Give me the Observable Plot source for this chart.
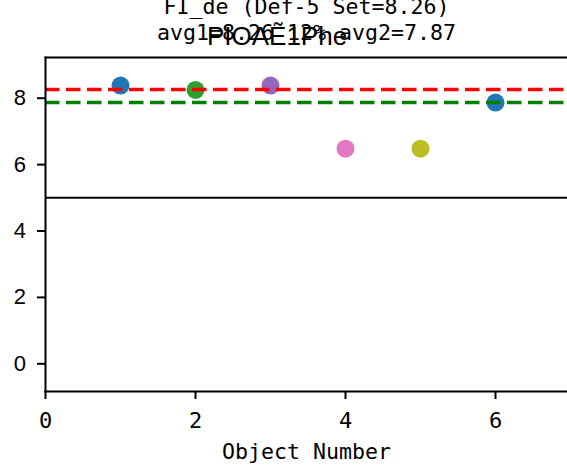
<!DOCTYPE html>
<html><head><meta charset="utf-8">
<script src="https://cdn.jsdelivr.net/npm/d3@7"></script>
<script src="https://cdn.jsdelivr.net/npm/@observablehq/plot@0.6"></script>
<style>body{margin:0;background:#fff;} svg{display:block}</style>
</head><body><div id="chart"></div>
<script>
const objectNumbers = [1, 2, 3, 4, 5, 6];
const values = [8.38, 8.25, 8.38, 6.48, 6.48, 7.87];
const pointColors = ["#1f77b4", "#2ca02c", "#9467bd", "#e377c2", "#bcbd22", "#1f77b4"];
const avg1 = 8.26;
const avg2 = 7.87;
const threshold = 5;
const xTicks = [0, 2, 4, 6];
const yTicks = [0, 2, 4, 6, 8];
const titleLine1 = "FI_de (Def-5 Set=8.26)";
const titleLine2 = "avg1=8.26 12% avg2=7.87";
const overlayText = "PIOAẼ1Phe";
const xLabel = "Object Number";
const xDomain = [0, 6.96];
const yDomain = [-0.834, 9.226];

const points = objectNumbers.map((x, i) => ({x, y: values[i], color: pointColors[i]}));
const mono = "'DejaVu Sans Mono', monospace";
const sans = "'Liberation Sans', Arial, sans-serif";

const chart = Plot.plot({
  width: 567, height: 466,
  marginLeft: 45, marginRight: 0, marginTop: 57, marginBottom: 75,
  style: {background: "#fff", overflow: "visible", color: "black"},
  x: {domain: xDomain},
  y: {domain: yDomain},
  color: {type: "identity"},
  marks: [
    Plot.dot(points, {x: "x", y: "y", fill: "color", r: 9}),
    Plot.ruleY([avg1], {stroke: "red", strokeWidth: 3.5, strokeDasharray: "14.5,6.5"}),
    Plot.ruleY([avg2], {stroke: "green", strokeWidth: 3.5, strokeDasharray: "14.5,6.5"}),
    Plot.ruleY([threshold], {stroke: "black", strokeWidth: 2}),
    Plot.frame({anchor: "left", stroke: "black", strokeWidth: 2}),
    Plot.frame({anchor: "top", stroke: "black", strokeWidth: 2}),
    Plot.frame({anchor: "bottom", stroke: "black", strokeWidth: 2}),
    Plot.axisX({ticks: xTicks, tickFormat: d3.format("d"), tickSize: 8, tickPadding: 12.4, fontFamily: mono, fontSize: 22, label: null, strokeWidth: 2}),
    Plot.axisY({ticks: yTicks, tickFormat: d3.format("d"), tickSize: 8, tickPadding: 11.5, fontFamily: sans, fontSize: 22, label: null, strokeWidth: 2}),
    Plot.text([xLabel], {text: d => d, frameAnchor: "bottom", lineAnchor: "bottom", dy: 67, fontFamily: mono, fontSize: 21.6, fill: "black"}),
    Plot.text([titleLine1], {text: d => d, frameAnchor: "top", lineAnchor: "bottom", dy: -44, fontFamily: mono, fontSize: 21.6, fill: "black"}),
    Plot.text([titleLine2], {text: d => d, frameAnchor: "top", lineAnchor: "bottom", dy: -17.5, fontFamily: mono, fontSize: 21.6, fill: "black"}),
    Plot.text([overlayText], {text: d => d, frameAnchor: "top", lineAnchor: "bottom", dy: -13, dx: -29.5, fontFamily: sans, fontSize: 26, fill: "black"})
  ]
});
document.getElementById("chart").appendChild(chart);
</script>
</body></html>
